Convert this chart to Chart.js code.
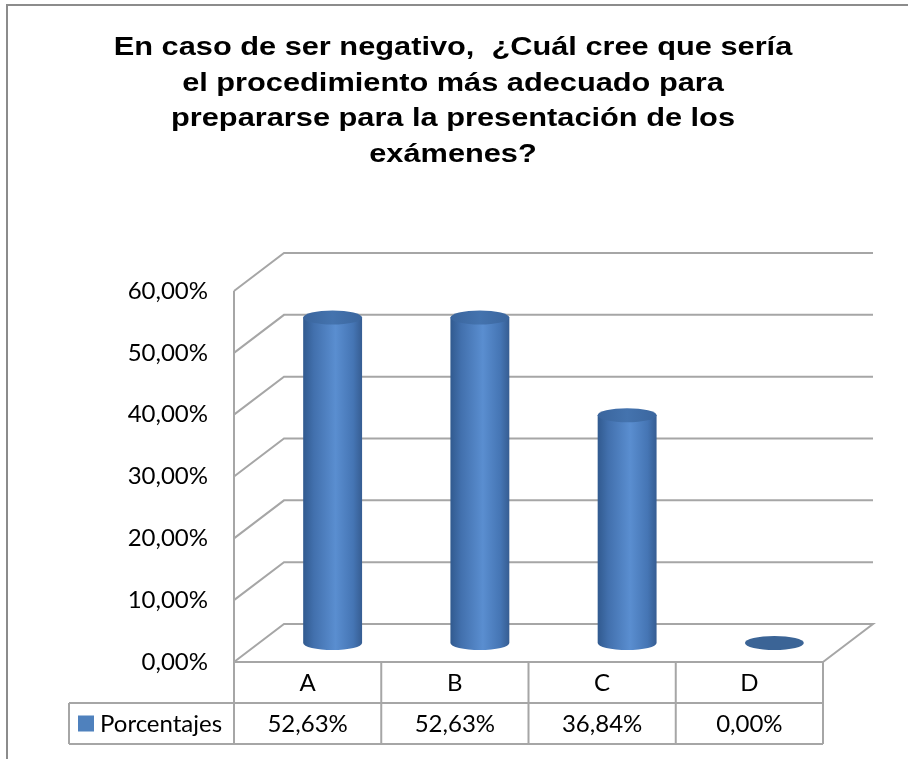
<!DOCTYPE html>
<html>
<head>
<meta charset="utf-8">
<script src="https://cdn.jsdelivr.net/npm/chart.js@4.4.0/dist/chart.umd.min.js"></script>
<style>
  body { margin: 0; background: #fff; }
  #wrap { position: relative; width: 908px; height: 759px; }
</style>
</head>
<body>
<div id="wrap"><canvas id="myChart"></canvas></div>
<script>
var categories = ['A', 'B', 'C', 'D'];
var porcentajes = [52.63, 52.63, 36.84, 0];
var seriesName = 'Porcentajes';
var tituloLineas = [
    'En caso de ser negativo,  ¿Cuál cree que sería',
    'el procedimiento más adecuado para',
    'prepararse para la presentación de los',
    'exámenes?'
];

var DX = 50, DY = -38;     // profundidad del efecto 3D
var textFont = 'Lato, "Open Sans", sans-serif';
var gridColor = '#a6a6a6';

function fmt(v) { return v.toFixed(2).replace('.', ',') + '%'; }

var plot3d = {
    id: 'plot3d',
    beforeDraw: function (chart) {
        var ctx = chart.ctx;
        ctx.save();
        ctx.strokeStyle = '#8c8c8c';
        ctx.lineWidth = 2;
        ctx.beginPath();
        ctx.moveTo(7, 759);
        ctx.lineTo(7, 5);
        ctx.lineTo(908, 5);
        ctx.stroke();

        // titulo (texto algo ensanchado, como en el original)
        ctx.fillStyle = '#000';
        ctx.font = 'bold 25px "Liberation Sans", Arial, sans-serif';
        ctx.textAlign = 'center';
        ctx.textBaseline = 'alphabetic';
        tituloLineas.forEach(function (linea, i) {
            ctx.save();
            ctx.translate(453, 55 + i * 35.5);
            ctx.scale(1.23, 1);
            ctx.fillText(linea, 0, 0);
            ctx.restore();
        });
        ctx.restore();
    },
    beforeDatasetsDraw: function (chart) {
        var ctx = chart.ctx, y = chart.scales.y, a = chart.chartArea;
        ctx.save();
        ctx.strokeStyle = gridColor;
        ctx.lineWidth = 2;
        y.ticks.forEach(function (t) {
            var py = y.getPixelForValue(t.value);
            ctx.beginPath();
            ctx.moveTo(a.left, py);
            ctx.lineTo(a.left + DX, py + DY);
            ctx.lineTo(a.right + DX, py + DY);
            if (t.value === 0) ctx.lineTo(a.right, py);
            ctx.stroke();
        });
        ctx.beginPath();
        ctx.moveTo(a.left, a.top);
        ctx.lineTo(a.left, a.bottom);
        ctx.stroke();
        ctx.restore();
    },
    afterDatasetsDraw: function (chart) {
        var ctx = chart.ctx;
        var meta = chart.getDatasetMeta(0);
        ctx.save();
        meta.data.forEach(function (el) {
            var w = el.width, r = w / 2, ry = 7;
            var cx = el.x + DX / 2;
            var top = el.y + DY / 2;
            var base = el.base + DY / 2;
            if (base - top > 1) {
                var g = ctx.createLinearGradient(cx - r, 0, cx + r, 0);
                g.addColorStop(0, '#315a8f');
                g.addColorStop(0.18, '#4270ad');
                g.addColorStop(0.55, '#5a8ed0');
                g.addColorStop(0.85, '#4575b4');
                g.addColorStop(1, '#365d92');
                ctx.fillStyle = g;
                ctx.beginPath();
                ctx.moveTo(cx - r, top);
                ctx.lineTo(cx - r, base);
                ctx.ellipse(cx, base, r, ry, 0, Math.PI, 0, true);
                ctx.lineTo(cx + r, top);
                ctx.closePath();
                ctx.fill();
                var gt = ctx.createLinearGradient(cx - r, 0, cx + r, 0);
                gt.addColorStop(0, '#3a659d');
                gt.addColorStop(0.5, '#4473ae');
                gt.addColorStop(1, '#3b669e');
                ctx.fillStyle = gt;
            } else {
                ctx.fillStyle = '#3b6496';
            }
            ctx.beginPath();
            ctx.ellipse(cx, top, r, ry, 0, 0, Math.PI * 2);
            ctx.fill();
        });
        ctx.restore();
    },
    afterDraw: function (chart) {
        var ctx = chart.ctx, x = chart.scales.x, a = chart.chartArea;
        var rowH = 41, colW = (a.right - a.left) / categories.length;
        var y0 = a.bottom, y1 = y0 + rowH, y2 = y1 + rowH;
        var legLeft = 69;
        ctx.save();
        ctx.strokeStyle = gridColor;
        ctx.lineWidth = 2;
        ctx.beginPath();
        ctx.moveTo(a.left, y0); ctx.lineTo(a.right, y0);
        ctx.moveTo(legLeft, y1); ctx.lineTo(a.right, y1);
        ctx.moveTo(legLeft, y2); ctx.lineTo(a.right, y2);
        ctx.moveTo(legLeft, y1); ctx.lineTo(legLeft, y2);
        for (var i = 0; i <= categories.length; i++) {
            var lx = a.left + i * colW;
            ctx.moveTo(lx, y0); ctx.lineTo(lx, y2);
        }
        ctx.stroke();

        ctx.fillStyle = '#000';
        ctx.font = '24px ' + textFont;
        ctx.textAlign = 'center';
        ctx.textBaseline = 'middle';
        categories.forEach(function (c, i) {
            var px = x.getPixelForValue(i);
            ctx.fillText(c, px, (y0 + y1) / 2 + 1);
            ctx.fillText(fmt(porcentajes[i]), px, (y1 + y2) / 2 + 1);
        });
        ctx.fillStyle = '#4f81bd';
        ctx.fillRect(78, (y1 + y2) / 2 - 8, 16, 16);
        ctx.fillStyle = '#000';
        ctx.textAlign = 'left';
        ctx.fillText(seriesName, 100, (y1 + y2) / 2 + 1);
        ctx.restore();
    }
};

var graphTarget = document.getElementById('myChart');
var barGraph = new Chart(graphTarget, {
    type: 'bar',
    data: {
        labels: categories,
        datasets: [{
            label: seriesName,
            data: porcentajes,
            backgroundColor: 'rgba(0,0,0,0)',
            borderWidth: 0,
            categoryPercentage: 1,
            barPercentage: 0.4
        }]
    },
    options: {
        responsive: true,
        maintainAspectRatio: false,
        animation: false,
        layout: { padding: { left: 0, right: 85, top: 291, bottom: 97 } },
        plugins: {
            legend: { display: false },
            tooltip: { enabled: false },
            title: { display: false }
        },
        scales: {
            x: { display: false },
            y: {
                min: 0,
                max: 60,
                afterFit: function (scale) { scale.width = 234; },
                grid: { display: false, drawTicks: false },
                border: { display: false },
                ticks: {
                    stepSize: 10,
                    padding: 26,
                    color: '#000',
                    font: { family: textFont, size: 24 },
                    callback: function (v) { return fmt(v); }
                }
            }
        }
    },
    plugins: [plot3d]
});
</script>
</body>
</html>
